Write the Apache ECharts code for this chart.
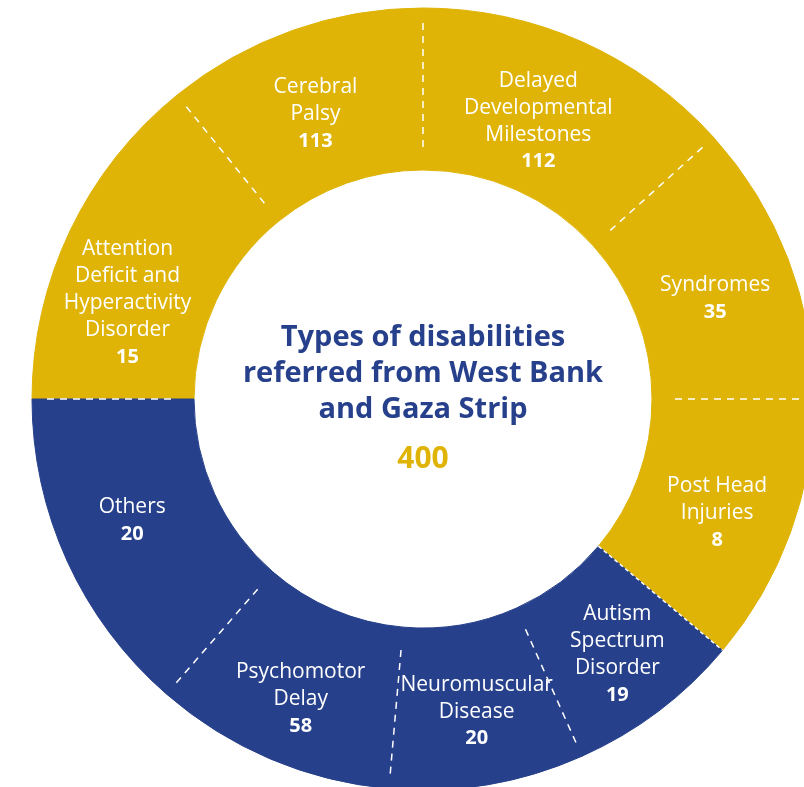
<!DOCTYPE html>
<html>
<head>
<meta charset="utf-8">
<script src="https://cdn.jsdelivr.net/npm/echarts@6/dist/echarts.min.js"></script>
<style>
  html, body { margin: 0; padding: 0; background: #fff; }
  #chart { width: 804px; height: 787px; }
</style>
</head>
<body>
<div id="chart"></div>
<script>
// categories, clockwise from 9 o'clock
const names = [
  'Attention\nDeficit and\nHyperactivity\nDisorder',
  'Cerebral\nPalsy',
  'Delayed\nDevelopmental\nMilestones',
  'Syndromes',
  'Post Head\nInjuries',
  'Autism\nSpectrum\nDisorder',
  'Neuromuscular\nDisease',
  'Psychomotor\nDelay',
  'Others'
];
const counts = [15, 113, 112, 35, 8, 19, 20, 58, 20];
// angular size of each slice as drawn (degrees)
const spans = [51, 39, 48, 42, 40, 26, 29, 36, 49];
// 0 = yellow group, 1 = blue group
const groups = [0, 0, 0, 0, 0, 1, 1, 1, 1];
const total = 400;
const titleText = 'Types of disabilities\nreferred from West Bank\nand Gaza Strip';

const YELLOW = '#dfb407';
const BLUE = '#26408b';
const palette = [YELLOW, BLUE];
const FONT = 'Open Sans';
const CX = 423, CY = 399, R_IN = 229, R_OUT = 391;

// labels in the original are placed by hand, a bit off the slice middle
const labelNudge = [[-13, 39], [-3, 10], [-12, 8], [0, 12], [0, 7], [6, 6], [2, 4], [0, 12], [-6, -8]];

// boundaries between slices (cumulative angle, clockwise from the start)
let boundaries = [];
let acc = 0;
spans.forEach((s, i) => {
  boundaries.push([0, acc, i]);
  acc += s;
});

const pieData = names.map((n, i) => ({
  name: n,
  value: spans[i],
  count: counts[i],
  itemStyle: { color: palette[groups[i]], borderColor: palette[groups[i]], borderWidth: 1 },
  label: { offset: labelNudge[i] }
}));

var myChart = echarts.init(document.getElementById('chart'));
myChart.setOption({
  backgroundColor: '#fff',
  animation: false,
  polar: { center: [CX, CY], radius: R_OUT },
  angleAxis: {
    type: 'value', min: 0, max: 360, startAngle: 180, clockwise: true,
    axisLine: { show: false }, axisTick: { show: false },
    axisLabel: { show: false }, splitLine: { show: false }
  },
  radiusAxis: {
    type: 'value', min: 0, max: R_OUT,
    axisLine: { show: false }, axisTick: { show: false },
    axisLabel: { show: false }, splitLine: { show: false }
  },
  series: [
    {
      type: 'pie',
      center: [CX, CY],
      radius: [R_IN, R_OUT],
      startAngle: 180,
      clockwise: true,
      z: 2,
      silent: true,
      label: {
        position: 'inside',
        color: '#fff',
        fontFamily: FONT,
        fontSize: 21,
        lineHeight: 27,
        formatter: p => p.name + '\n{n|' + p.data.count + '}',
        rich: {
          n: { fontFamily: FONT, fontWeight: 'bold', fontSize: 20, lineHeight: 27, color: '#fff' }
        }
      },
      labelLine: { show: false },
      data: pieData
    },
    {
      type: 'custom',
      coordinateSystem: 'polar',
      z: 3,
      silent: true,
      data: boundaries,
      renderItem: function (params, api) {
        const a = api.value(1);
        const i = api.value(2);
        const prev = groups[(i + groups.length - 1) % groups.length];
        // where yellow turns into blue the line runs the full ring width
        const full = prev === 0 && groups[i] === 1;
        const p1 = api.coord([full ? R_IN : 252, a]);
        const p2 = api.coord([full ? R_OUT : 378, a]);
        return {
          type: 'line',
          shape: { x1: p1[0], y1: p1[1], x2: p2[0], y2: p2[1] },
          style: { stroke: '#fff', lineWidth: 1.5, lineDash: full ? [4, 3] : [7, 6] }
        };
      }
    }
  ],
  graphic: [
    {
      type: 'text',
      x: CX, y: 374,
      style: {
        text: titleText,
        fill: BLUE,
        fontFamily: FONT,
        fontWeight: 'bold',
        fontSize: 29,
        lineHeight: 36,
        align: 'center',
        verticalAlign: 'middle'
      }
    },
    {
      type: 'text',
      x: CX, y: 459,
      style: {
        text: String(total),
        fill: YELLOW,
        fontFamily: FONT,
        fontWeight: 'bold',
        fontSize: 30,
        align: 'center',
        verticalAlign: 'middle'
      }
    }
  ]
});
</script>
</body>
</html>
